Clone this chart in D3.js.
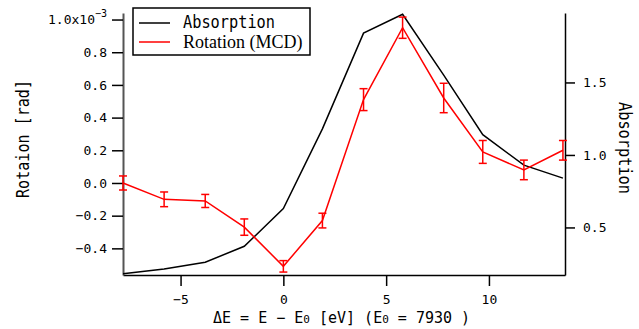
<!DOCTYPE html>
<html>
<head>
<meta charset="utf-8">
<script src="https://cdn.jsdelivr.net/npm/d3@7"></script>
<style>
  body { margin: 0; background: #fff; }
  svg { display: block; }
  .mono { font-family: "DejaVu Sans Mono", "Liberation Mono", monospace; }
</style>
</head>
<body>
<svg id="chart" width="639" height="329"></svg>
<script>
const energy = [-7.8, -5.8, -3.8, -1.9, 0.0, 1.9, 3.9, 5.8, 7.8, 9.7, 11.7, 13.6];
const rotation = [0.0, -0.10, -0.11, -0.27, -0.51, -0.23, 0.51, 0.95, 0.52, 0.19, 0.08, 0.20];
const rotationErr = [0.043, 0.045, 0.04, 0.05, 0.035, 0.045, 0.067, 0.065, 0.09, 0.07, 0.06, 0.06];
const absorption = [0.18, 0.214, 0.26, 0.37, 0.63, 1.18, 1.84, 1.97, 1.55, 1.14, 0.93, 0.84];
const xTicks = [-5, 0, 5, 10];
const leftTicks = [-0.4, -0.2, 0.0, 0.2, 0.4, 0.6, 0.8, 1.0];
const rightTicks = [0.5, 1.0, 1.5];

const svg = d3.select("#chart");
const plotLeft = 123, plotRight = 565, plotTop = 13, plotBottom = 275;

const x = d3.scaleLinear().domain([-7.8, 13.7]).range([plotLeft, plotRight]);
const yRot = d3.scaleLinear().domain([-0.563, 1.04]).range([plotBottom, plotTop]);
const yAbs = d3.scaleLinear().domain([0.172, 1.979]).range([plotBottom, plotTop]);

const rotData = energy.map((e, i) => ({ e, v: rotation[i], err: rotationErr[i] }));
const absData = energy.map((e, i) => ({ e, v: absorption[i] }));

// axes
const styleAxis = (g, color, width) => {
  g.select(".domain").attr("stroke", color).attr("stroke-width", width);
  g.selectAll(".tick line").attr("stroke", "#000").attr("stroke-width", 1.5);
  g.selectAll(".tick text").attr("class", "mono").attr("font-size", 13).attr("fill", "#000");
};

svg.append("g")
    .attr("transform", `translate(0,${plotBottom})`)
    .call(d3.axisBottom(x).tickValues(xTicks).tickSize(11).tickSizeOuter(0)
      .tickFormat(d => d < 0 ? "\u2212" + Math.abs(d) : d))
    .call(g => styleAxis(g, "#000", 1.5))
    .call(g => g.selectAll(".tick text").attr("dy", "1.15em"));

svg.append("g")
    .attr("transform", `translate(${plotLeft},0)`)
    .call(d3.axisLeft(yRot).tickValues(leftTicks).tickSize(11).tickSizeOuter(0)
      .tickFormat(d => d === 1.0 ? "" : (d < 0 ? "\u2212" : "") + Math.abs(d).toFixed(1)))
    .call(g => styleAxis(g, "#555", 2))
    .call(g => g.selectAll(".tick text").attr("x", -16));

svg.append("g")
    .attr("transform", `translate(${plotRight},0)`)
    .call(d3.axisRight(yAbs).tickValues(rightTicks).tickSize(10).tickSizeOuter(0)
      .tickFormat(d3.format(".1f")))
    .call(g => styleAxis(g, "#000", 1.5))
    .call(g => g.selectAll(".tick text").attr("x", 18));

// 1.0x10^-3 label
svg.append("text").attr("class", "mono").attr("font-size", 13)
    .attr("x", 95).attr("y", yRot(1.0)).attr("dy", "0.32em")
    .attr("text-anchor", "end").text("1.0x10");
svg.append("text").attr("class", "mono").attr("font-size", 10)
    .attr("x", 95).attr("y", yRot(1.0) - 3).attr("text-anchor", "start").text("\u22123");

// absorption line
svg.append("path")
    .datum(absData)
    .attr("fill", "none").attr("stroke", "#000").attr("stroke-width", 1.5)
    .attr("d", d3.line().x(d => x(d.e)).y(d => yAbs(d.v)));

// rotation line
svg.append("path")
    .datum(rotData)
    .attr("fill", "none").attr("stroke", "#ff0000").attr("stroke-width", 1.5)
    .attr("d", d3.line().x(d => x(d.e)).y(d => yRot(d.v)));

// error bars
const eb = svg.append("g").attr("stroke", "#ff0000").attr("stroke-width", 1.5);
eb.selectAll("line.v").data(rotData).enter().append("line")
    .attr("x1", d => x(d.e)).attr("x2", d => x(d.e))
    .attr("y1", d => yRot(d.v - d.err)).attr("y2", d => yRot(d.v + d.err));
["hi", "lo"].forEach(k => {
  eb.selectAll("line." + k).data(rotData).enter().append("line")
      .attr("x1", d => x(d.e) - 4).attr("x2", d => x(d.e) + 4)
      .attr("y1", d => yRot(k === "hi" ? d.v + d.err : d.v - d.err))
      .attr("y2", d => yRot(k === "hi" ? d.v + d.err : d.v - d.err));
});

// legend
const lg = svg.append("g");
lg.append("rect").attr("x", 133).attr("y", 8).attr("width", 177).attr("height", 47)
    .attr("fill", "#fff").attr("stroke", "#000").attr("stroke-width", 1.5);
lg.append("line").attr("x1", 139).attr("x2", 170).attr("y1", 23).attr("y2", 23)
    .attr("stroke", "#000").attr("stroke-width", 1.5);
lg.append("line").attr("x1", 139).attr("x2", 170).attr("y1", 42).attr("y2", 42)
    .attr("stroke", "#ff0000").attr("stroke-width", 1.5);
lg.append("text").attr("class", "mono").attr("font-size", 17)
    .attr("x", 183).attr("y", 28).attr("textLength", 92).attr("lengthAdjust", "spacingAndGlyphs")
    .text("Absorption");
lg.append("text").attr("font-family", "'Liberation Serif', 'Times New Roman', serif").attr("font-size", 18)
    .attr("x", 183).attr("y", 48).text("Rotation (MCD)");

// axis titles
svg.append("text").attr("class", "mono").attr("font-size", 17)
    .attr("transform", "translate(29,139) rotate(-90)").attr("text-anchor", "middle")
    .attr("textLength", 118).attr("lengthAdjust", "spacingAndGlyphs")
    .text("Rotaion [rad]");
svg.append("text").attr("class", "mono").attr("font-size", 17)
    .attr("transform", "translate(619,148) rotate(90)").attr("text-anchor", "middle")
    .attr("textLength", 92).attr("lengthAdjust", "spacingAndGlyphs")
    .text("Absorption");

const xt = svg.append("text").attr("class", "mono").attr("font-size", 15)
    .attr("x", 213).attr("y", 323);
xt.append("tspan").text("\u0394E = E \u2212 E");
xt.append("tspan").attr("font-size", 11).text("0");
xt.append("tspan").text(" [eV] (E");
xt.append("tspan").attr("font-size", 11).text("0");
xt.append("tspan").text(" = 7930 )");
</script>
</body>
</html>
